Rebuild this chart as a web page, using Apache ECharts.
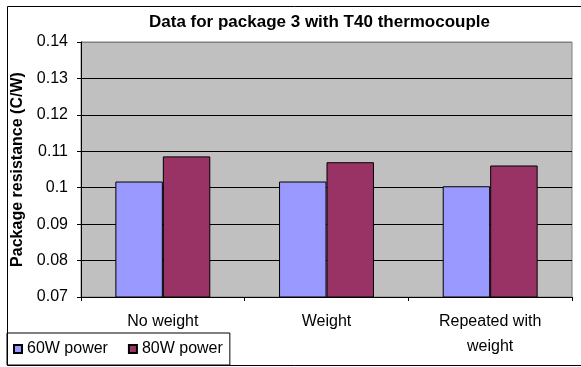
<!DOCTYPE html>
<html>
<head>
<meta charset="utf-8">
<script src="https://cdn.jsdelivr.net/npm/echarts@6/dist/echarts.min.js"></script>
<style>
html,body{margin:0;padding:0;background:#fff;}
#chart{width:581px;height:367px;}
</style>
</head>
<body>
<div id="chart"></div>
<script>
var categories = ['No weight', 'Weight', 'Repeated with\nweight'];
var series60W = [0.1017, 0.1017, 0.1004];
var series80W = [0.1086, 0.1070, 0.1061];
var seriesNames = ['60W power', '80W power'];
var yTicks = {min: 0.07, max: 0.14, interval: 0.01};

var chart = echarts.init(document.getElementById('chart'), null, {renderer: 'canvas'});
var font = '"Liberation Sans", Arial, sans-serif';
chart.setOption({
  backgroundColor: '#ffffff',
  animation: false,
  title: {
    text: 'Data for package 3 with T40 thermocouple',
    left: 149, top: 14, padding: 0,
    textStyle: {fontFamily: font, fontSize: 17, fontWeight: 'bold', color: '#000'}
  },
  grid: {left: 81, top: 42, right: 9, bottom: 70, show: true, backgroundColor: '#c0c0c0', borderColor: '#808080', borderWidth: 1},
  legend: {
    left: 7, top: 333, itemWidth: 8, itemHeight: 8, itemGap: 20, icon: 'rect',
    padding: [8, 7, 8, 6],
    borderColor: '#000', borderWidth: 1, borderRadius: 0,
    textStyle: {fontFamily: font, fontSize: 16, color: '#000'},
    data: seriesNames
  },
  xAxis: {
    type: 'category', data: categories,
    axisLine: {lineStyle: {color: '#000', width: 1}},
    axisTick: {show: true, length: 4, lineStyle: {color: '#000'}},
    axisLabel: {fontFamily: font, fontSize: 16, color: '#000', margin: 12, lineHeight: 25}
  },
  yAxis: {
    type: 'value', min: yTicks.min, max: yTicks.max, interval: yTicks.interval,
    name: 'Package resistance (C/W)', nameLocation: 'middle', nameGap: 50,
    nameTextStyle: {fontFamily: font, fontSize: 16, fontWeight: 'bold', color: '#000'},
    axisLine: {show: true, lineStyle: {color: '#000'}},
    axisTick: {show: true, length: 4, lineStyle: {color: '#000'}},
    axisLabel: {fontFamily: font, fontSize: 16, color: '#000', margin: 13,
      formatter: function (v) { return String(Math.round(v * 100) / 100); }},
    splitLine: {show: true, lineStyle: {color: ['#000', '#000', '#000', '#000', '#000', '#000', '#000', '#808080'], width: 1}}
  },
  series: [
    {name: seriesNames[0], type: 'bar', data: series60W, barGap: '0%', barCategoryGap: '42%',
     itemStyle: {color: '#9999ff', borderColor: '#000', borderWidth: 1}},
    {name: seriesNames[1], type: 'bar', data: series80W,
     itemStyle: {color: '#993366', borderColor: '#000', borderWidth: 1}}
  ],
  graphic: [
    {type: 'rect', shape: {x: 7.5, y: 6.5, width: 590, height: 359}, style: {fill: null, stroke: '#000', lineWidth: 1}, z: 100}
  ]
});
</script>
</body>
</html>
